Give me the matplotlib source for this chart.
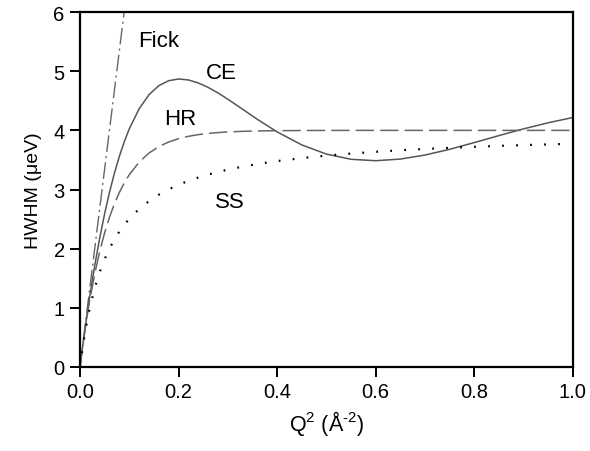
import matplotlib
matplotlib.use("Agg")
import matplotlib.pyplot as plt

plt.rcParams["font.family"] = ["Liberation Sans", "DejaVu Sans"]
plt.rcParams["mathtext.default"] = "regular"

# Q^2 (1/A^2) sample points
q2 = [0.0, 0.005, 0.01, 0.015, 0.02, 0.03, 0.04, 0.05, 0.06, 0.07, 0.08, 0.09,
      0.1, 0.12, 0.14, 0.16, 0.18, 0.2, 0.22, 0.24, 0.26, 0.28, 0.3, 0.33,
      0.36, 0.4, 0.45, 0.5, 0.55, 0.6, 0.65, 0.7, 0.75, 0.8, 0.85, 0.9,
      0.95, 1.0]

# HWHM (ueV) per model
ce = [0.0, 0.325, 0.634, 0.927, 1.206, 1.721, 2.181, 2.593, 2.958, 3.281,
      3.564, 3.812, 4.026, 4.365, 4.604, 4.757, 4.840, 4.869, 4.853, 4.802,
      4.727, 4.633, 4.527, 4.357, 4.186, 3.974, 3.754, 3.599, 3.511, 3.487,
      3.515, 3.583, 3.680, 3.794, 3.912, 4.026, 4.129, 4.218]
hr = [0.0, 0.321, 0.617, 0.889, 1.139, 1.580, 1.953, 2.269, 2.536, 2.762,
      2.953, 3.114, 3.251, 3.464, 3.617, 3.726, 3.804, 3.860, 3.900, 3.928,
      3.949, 3.963, 3.974, 3.984, 3.990, 3.995, 3.998, 3.999, 4.0, 4.0,
      4.0, 4.0, 4.0, 4.0, 4.0, 4.0, 4.0, 4.0]
ss = [0.0, 0.309, 0.574, 0.803, 1.004, 1.338, 1.605, 1.823, 2.005, 2.159,
      2.291, 2.405, 2.505, 2.671, 2.804, 2.913, 3.004, 3.080, 3.146, 3.203,
      3.253, 3.297, 3.336, 3.387, 3.431, 3.481, 3.531, 3.573, 3.608, 3.638,
      3.664, 3.686, 3.705, 3.722, 3.738, 3.751, 3.763, 3.775]
fick_x = [0.0, 0.09]
fick_y = [0.0, 6.03]

labels = ["Fick", "CE", "HR", "SS"]
label_pos = [(0.16, 5.52), (0.287, 4.98), (0.203, 4.2), (0.305, 2.8)]

fig = plt.figure(figsize=(5.9, 4.52), dpi=100)
ax = fig.add_axes([0.1356, 0.186, 0.8354, 0.785])

ax.plot(fick_x, fick_y, color="#666666", lw=1.0, ls=(0, (12, 3, 1.5, 3)))
ax.plot(q2, ce, color="#555555", lw=1.1, ls="-")
ax.plot(q2, hr, color="#666666", lw=1.1, ls=(0, (12, 4)))
ax.plot(q2, ss, color="black", lw=1.6, ls=(0, (0.8, 5.5)))

for lab, (x, y) in zip(labels, label_pos):
    ax.text(x, y, lab, fontsize=16, ha="center", va="center")

ax.set_xlim(0, 1.0)
ax.set_ylim(0, 6)
ax.set_xticks([0.0, 0.2, 0.4, 0.6, 0.8, 1.0])
ax.set_xticklabels(["0.0", "0.2", "0.4", "0.6", "0.8", "1.0"])
ax.set_yticks([0, 1, 2, 3, 4, 5, 6])

for s in ax.spines.values():
    s.set_linewidth(1.6)
ax.tick_params(direction="out", length=7, width=1.4, labelsize=14.5, pad=4)

# short hyphen (U+2010) in the exponent, like the original
ax.set_xlabel("Q$^2$ (Å$^{\u20102}$)", fontsize=15.5, labelpad=5)
ax.set_ylabel("HWHM (μeV)", fontsize=14, labelpad=8)

fig.savefig("out.png", dpi=100)
